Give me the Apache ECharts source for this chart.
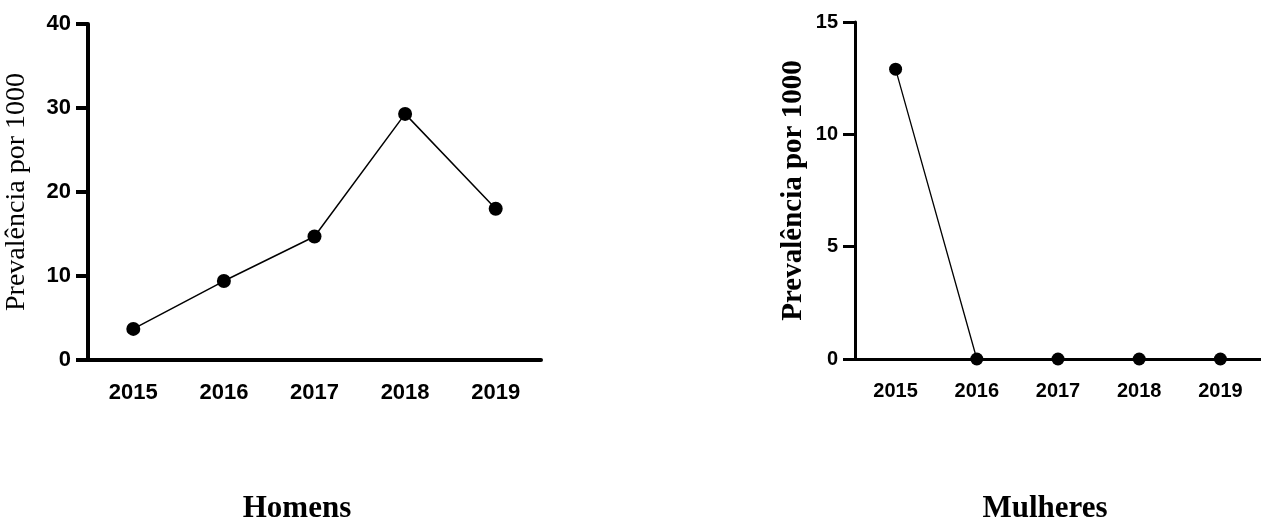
<!DOCTYPE html>
<html>
<head>
<meta charset="utf-8">
<script src="https://cdn.jsdelivr.net/npm/echarts@6/dist/echarts.min.js"></script>
<style>
html,body{margin:0;padding:0;background:#fff;}
#c{width:1261px;height:519px;}
</style>
</head>
<body>
<div id="c"></div>
<script>
const years = ['2015', '2016', '2017', '2018', '2019'];
const homens = [3.7, 9.4, 14.7, 29.3, 18.0];
const mulheres = [12.9, 0, 0, 0, 0];
const homensTicks = { min: 0, max: 40, interval: 10 };
const mulheresTicks = { min: 0, max: 15, interval: 5 };
const yName = 'Prevalência por 1000';
const titles = ['Homens', 'Mulheres'];

const sans = '"Liberation Sans", Arial, sans-serif';
const serif = '"Liberation Serif", "Times New Roman", serif';

function xAxis(idx, lw, fs) {
  return {
    type: 'category', gridIndex: idx, data: years, boundaryGap: true,
    axisLine: { lineStyle: { color: '#000', width: lw } },
    axisTick: { alignWithLabel: true, length: 12, lineStyle: { color: '#000', width: lw } },
    axisLabel: { color: '#000', fontFamily: sans, fontWeight: 'bold', fontSize: fs, margin: 22 },
    splitLine: { show: false }
  };
}
function yAxis(idx, t, lw, fs, nameWeight, nameSize, gap) {
  return {
    type: 'value', gridIndex: idx, min: t.min, max: t.max, interval: t.interval,
    name: yName, nameLocation: 'middle', nameGap: gap, nameRotate: 90,
    nameTextStyle: { color: '#000', fontFamily: serif, fontWeight: nameWeight, fontSize: nameSize },
    axisLine: { show: true, lineStyle: { color: '#000', width: lw } },
    axisTick: { show: true, length: 12, lineStyle: { color: '#000', width: lw } },
    axisLabel: { color: '#000', fontFamily: sans, fontWeight: 'bold', fontSize: fs, margin: 17 },
    splitLine: { show: false }
  };
}

const chart = echarts.init(document.getElementById('c'), null, { renderer: 'canvas' });
chart.setOption({
  animation: false,
  backgroundColor: '#fff',
  grid: [
    { left: 88, top: 24, width: 453, height: 336 },
    { left: 855, top: 22, right: 0, height: 337 }
  ],
  xAxis: [xAxis(0, 4, 22), xAxis(1, 3, 20)],
  yAxis: [yAxis(0, homensTicks, 4, 22, 'normal', 28, 57), yAxis(1, mulheresTicks, 3, 20, 'bold', 29, 47)],
  series: [
    {
      type: 'line', xAxisIndex: 0, yAxisIndex: 0, data: homens, clip: false,
      symbol: 'circle', symbolSize: 14,
      lineStyle: { color: '#000', width: 1.5 }, itemStyle: { color: '#000' }
    },
    {
      type: 'line', xAxisIndex: 1, yAxisIndex: 1, data: mulheres, clip: false,
      symbol: 'circle', symbolSize: 13,
      lineStyle: { color: '#000', width: 1.3 }, itemStyle: { color: '#000' }
    }
  ],
  graphic: [
    { type: 'text', x: 297, y: 509, style: { text: titles[0], fill: '#000', font: 'bold 31px ' + serif, textAlign: 'center', textVerticalAlign: 'middle' } },
    { type: 'text', x: 1045, y: 509, style: { text: titles[1], fill: '#000', font: 'bold 31px ' + serif, textAlign: 'center', textVerticalAlign: 'middle' } }
  ]
});
</script>
</body>
</html>
